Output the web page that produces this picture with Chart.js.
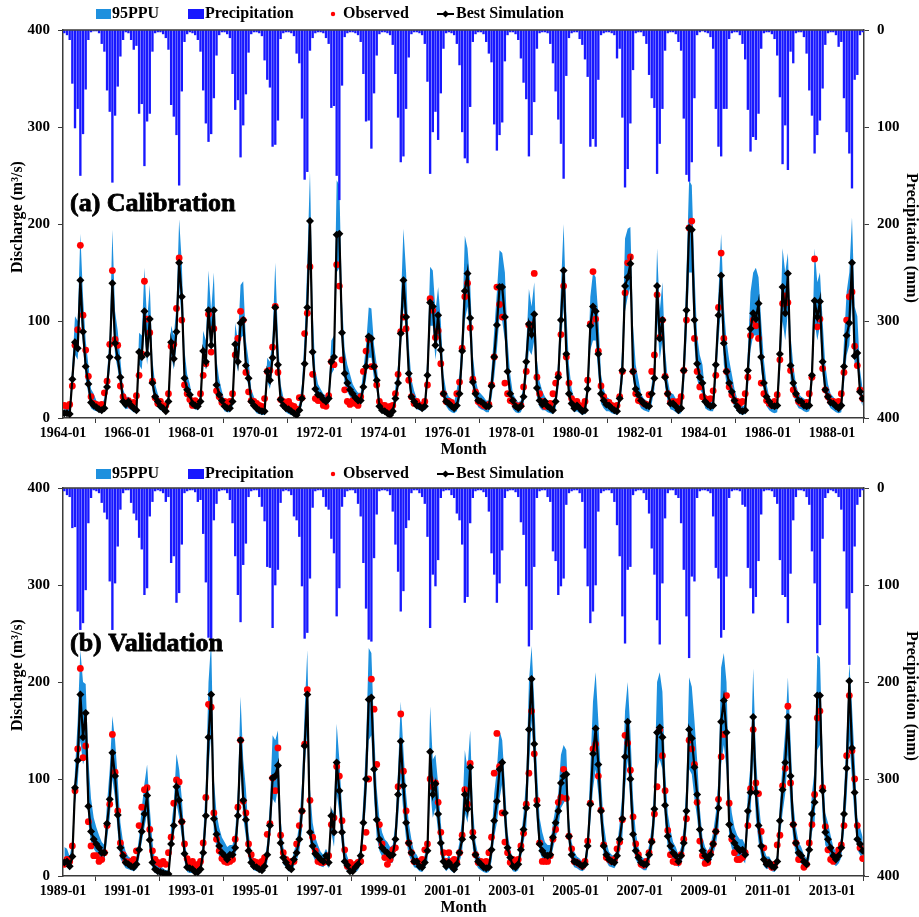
<!DOCTYPE html>
<html lang="en">
<head>
  <meta charset="utf-8">
  <title>Discharge calibration / validation | Chart.js</title>
  <script src="https://cdn.jsdelivr.net/npm/chart.js@4.4.1/dist/chart.umd.min.js"></script>
  <style>
    body { margin: 0; background: #fff; }
    .panel { position: absolute; left: 0; width: 919px; height: 459px; }
  </style>
</head>
<body>
  <div class="panel" style="top:0"><canvas id="cal" width="919" height="459"></canvas></div>
  <div class="panel" style="top:458px"><canvas id="val" width="919" height="459"></canvas></div>

  <script>
    // ---- tick labels (one every 24 months) ----
    const calTicks = ['1964-01','1966-01','1968-01','1970-01','1972-01','1974-01','1976-01',
                      '1978-01','1980-01','1982-01','1984-01','1986-01','1988-01'];
    const valTicks = ['1989-01','1991-01','1993-01','1995-01','1997-01','1999-01','2001-01',
                      '2003-01','2005-01','2007-01','2009-01','2011-01','2013-01'];

    // ---- calibration 1964-01 .. 1988-12 (monthly) ----
    const calPrecip = [
      3,5,10,55,101,81,150,107,61,10,2,1,
      1,3,14,22,62,84,157,88,58,27,10,2,
      3,10,20,16,86,76,140,94,86,22,3,2,
      2,4,8,20,77,89,108,160,63,12,4,2,
      3,5,10,22,62,96,115,107,70,26,5,2,
      2,4,8,45,82,72,131,98,66,23,4,2,
      2,3,6,31,51,59,120,118,93,9,3,2,
      2,3,6,24,34,91,154,146,21,8,3,2,
      2,3,8,14,80,78,150,175,57,7,3,2,
      2,3,5,12,45,94,93,122,65,26,4,2,
      2,3,5,15,45,90,136,130,81,28,4,2,
      2,3,5,14,53,148,105,84,113,65,19,3,
      2,3,5,14,36,105,132,137,79,12,4,2,
      2,4,12,24,33,97,124,108,95,32,5,2,
      2,4,10,29,54,71,130,108,74,19,3,2,
      2,3,14,34,63,92,117,153,47,8,3,2,
      2,9,15,30,48,120,112,120,51,5,3,2,
      2,3,5,29,19,90,162,143,96,41,3,2,
      2,6,14,46,70,80,148,117,81,21,3,2,
      2,4,12,21,91,149,156,136,70,5,2,1,
      2,3,7,19,81,120,130,81,81,9,3,2,
      2,5,14,30,82,125,110,113,86,19,3,2,
      2,4,9,26,69,138,98,144,22,34,3,2,
      2,7,24,62,88,127,108,93,60,15,3,2,
      2,5,17,12,70,105,127,163,51,46,5,2
    ];
    const calObserved = [
      13,12,14,33,75,91,178,106,70,43,22,15,
      14,13,14,26,38,76,152,81,75,33,22,16,
      18,13,16,23,44,66,141,102,88,38,21,15,
      17,12,13,25,74,76,113,165,101,34,25,19,
      13,18,16,25,44,56,107,68,92,28,22,16,
      17,12,17,25,65,82,110,101,47,27,18,17,
      15,13,12,20,48,49,73,115,47,19,17,12,
      17,13,12,9,21,21,87,108,156,45,20,18,
      18,13,12,23,58,55,158,136,60,29,17,14,
      18,15,13,22,48,69,81,53,53,34,17,13,
      13,10,12,13,25,45,89,104,92,39,22,15,
      17,13,13,17,34,123,111,83,90,56,25,17,
      17,16,12,25,37,72,125,139,93,40,27,17,
      15,13,12,14,34,63,135,117,104,36,25,18,
      17,13,12,13,32,48,96,96,149,42,25,17,
      12,13,15,25,36,45,86,136,63,36,20,15,
      17,13,12,17,39,97,151,102,69,33,22,16,
      16,13,12,13,22,48,129,160,166,48,25,18,
      17,15,14,24,48,65,127,83,101,43,25,16,
      17,15,17,22,49,101,196,203,82,48,32,22,
      20,18,20,28,44,114,170,82,48,32,24,18,
      17,15,17,25,42,85,101,95,82,36,25,18,
      15,13,17,24,60,118,126,119,49,29,24,17,
      15,15,16,25,42,164,94,102,51,29,22,17,
      17,15,17,25,47,101,125,130,74,54,29,20
    ];
    const calSimulated = [
      5,5,4,40,78,72,142,89,53,35,16,13,
      11,9,8,10,32,63,139,77,62,42,17,14,
      17,13,10,8,68,63,110,66,102,36,22,17,
      12,10,7,17,78,61,89,160,125,41,29,24,
      15,13,12,17,69,58,111,75,111,34,24,18,
      12,10,10,17,76,58,98,101,54,41,17,13,
      10,8,7,7,48,39,62,114,55,19,13,10,
      9,7,5,3,8,20,56,114,203,68,30,24,
      23,19,17,20,58,63,189,190,88,46,36,29,
      25,21,18,18,32,53,84,82,53,39,12,8,
      7,5,3,7,20,36,87,142,104,46,22,17,
      13,12,10,12,44,119,115,75,106,70,25,17,
      15,12,10,13,25,69,131,149,103,37,25,18,
      17,15,12,12,33,63,96,135,135,104,48,25,
      18,12,10,12,22,58,97,86,107,31,18,14,
      17,12,10,8,17,42,101,152,66,25,15,10,
      13,10,7,8,30,95,115,110,66,25,18,14,
      13,10,8,7,20,49,136,145,159,48,30,24,
      18,15,13,12,25,41,136,82,101,42,25,15,
      15,12,8,10,49,111,196,194,101,56,42,36,
      17,14,12,13,55,106,147,77,48,36,27,18,
      12,8,7,8,49,92,108,102,118,63,36,22,
      17,13,12,13,66,135,108,149,54,36,25,18,
      17,13,12,13,44,121,104,120,58,29,22,16,
      15,12,10,13,53,85,98,160,64,67,27,20
    ];
    const calPpuLow = [
      2,2,2,30,65,60,110,75,40,25,10,8,
      7,6,5,8,25,50,110,65,50,32,12,9,
      10,8,6,5,55,50,90,55,85,28,15,11,
      8,7,4,12,65,50,75,135,100,30,20,16,
      10,9,8,12,58,50,95,65,95,28,18,13,
      7,6,6,12,62,48,82,85,45,32,12,9,
      5,4,3,3,38,30,50,95,45,14,9,6,
      4,3,2,1,4,14,45,95,175,55,24,18,
      15,13,11,14,45,50,150,155,70,35,27,22,
      17,14,12,12,25,40,62,62,40,28,8,5,
      4,3,2,4,14,28,70,115,85,35,16,12,
      9,8,7,8,32,95,95,60,85,55,18,12,
      8,6,5,7,17,50,100,115,80,28,17,11,
      9,8,6,6,20,42,70,105,100,80,35,18,
      9,6,5,6,14,40,70,65,80,22,11,8,
      8,6,5,4,10,30,75,115,50,18,10,6,
      7,5,3,4,18,70,80,80,45,15,10,7,
      7,5,4,3,12,35,110,125,135,40,22,16,
      10,8,7,6,15,30,100,60,80,32,16,9,
      8,6,4,5,30,80,150,150,75,40,30,25,
      10,8,7,7,38,80,115,55,35,25,18,11,
      7,4,3,4,30,70,85,85,85,50,25,12,
      8,6,5,6,45,100,80,110,40,25,15,10,
      9,7,6,7,30,100,80,95,45,22,15,10,
      8,6,5,6,35,65,75,120,55,55,20,12
    ];
    const calPpuHigh = [
      12,12,10,55,105,100,190,125,80,55,30,25,
      18,15,14,20,45,85,194,110,90,60,30,22,
      22,18,15,12,88,85,155,100,137,60,35,25,
      18,15,12,25,95,85,115,205,160,70,45,35,
      20,18,16,25,90,80,152,110,150,60,40,28,
      18,15,15,25,98,80,137,141,80,60,30,22,
      15,13,12,12,62,58,85,160,85,35,22,15,
      15,13,10,8,15,35,85,160,255,110,50,35,
      30,25,23,28,80,85,245,240,120,70,55,45,
      35,30,26,26,50,75,114,113,75,55,22,14,
      12,10,8,12,32,55,115,195,150,75,40,28,
      20,18,16,18,65,156,152,110,135,100,45,28,
      22,20,16,30,45,90,188,175,140,65,40,28,
      25,22,18,18,50,90,130,173,170,150,80,45,
      25,20,16,18,35,75,133,115,140,60,38,28,
      22,18,15,12,25,60,135,200,110,55,30,20,
      20,16,12,14,45,125,150,145,105,45,30,22,
      20,16,13,12,30,75,185,195,197,95,55,40,
      25,20,18,16,35,60,175,110,140,70,40,25,
      25,20,15,18,70,150,245,240,150,85,65,55,
      25,22,18,20,70,130,190,115,80,60,45,30,
      20,15,12,14,70,130,150,155,145,100,60,35,
      22,18,16,18,85,175,150,170,85,55,35,25,
      22,20,18,20,60,175,140,150,100,55,35,25,
      22,18,16,20,80,130,150,207,115,105,50,30
    ];

    // ---- validation 1989-01 .. 2013-12 (monthly) ----
    const valPrecip = [
      3,7,9,41,40,127,146,139,105,36,10,2,
      3,5,15,25,32,96,146,98,60,22,5,2,
      2,15,26,33,51,63,110,103,29,14,3,2,
      3,5,14,9,77,70,118,108,58,5,3,2,
      2,4,14,12,47,97,154,160,33,16,3,2,
      2,5,12,36,70,110,138,79,57,9,3,2,
      2,9,19,34,81,82,144,100,84,15,3,2,
      3,7,29,33,50,101,155,149,93,20,3,2,
      2,9,19,22,52,67,132,103,19,9,3,2,
      2,5,16,29,77,124,156,158,72,27,3,2,
      2,3,7,24,58,86,127,106,41,33,5,2,
      2,5,9,16,50,144,89,101,74,10,3,2,
      2,7,10,26,33,58,118,112,36,10,3,2,
      2,4,9,24,67,89,118,98,64,10,3,2,
      2,4,9,35,48,101,163,146,81,10,3,2,
      2,9,14,65,75,110,101,93,17,5,3,2,
      2,5,14,62,101,139,127,100,24,5,3,2,
      2,5,14,38,70,132,160,84,81,7,3,2,
      2,5,12,26,62,89,136,161,98,31,5,2,
      2,7,10,36,84,132,175,91,96,10,3,2,
      2,3,5,29,82,93,154,146,91,10,3,2,
      2,3,17,19,82,103,129,112,75,27,3,2,
      2,3,9,16,74,110,112,139,88,33,9,2,
      2,3,9,17,65,98,170,141,52,10,5,2,
      3,5,9,22,65,124,182,108,60,17,9,2
    ];
    const valObserved = [
      12,17,15,31,88,131,214,122,134,56,31,21,
      21,15,17,24,52,74,146,107,67,34,22,15,
      14,15,17,26,52,71,89,91,48,26,17,14,
      12,15,12,24,40,75,99,97,56,33,18,12,
      15,10,12,15,34,81,177,174,65,38,26,18,
      15,14,15,17,38,71,140,77,65,33,22,15,
      14,10,15,19,43,54,101,88,132,42,24,17,
      14,15,15,33,52,67,136,192,78,40,26,15,
      14,14,15,21,53,60,113,103,57,27,10,14,
      9,12,14,15,29,45,100,203,172,115,53,33,
      19,12,17,27,29,92,167,108,67,34,24,15,
      15,15,17,27,33,100,92,96,76,45,24,15,
      24,15,17,14,24,42,89,74,116,45,22,14,
      15,14,15,24,40,106,147,113,65,35,24,14,
      17,15,17,31,44,74,106,170,126,78,34,15,
      15,15,21,38,48,76,81,110,80,41,28,15,
      14,12,10,15,36,75,131,136,103,68,32,19,
      17,15,17,28,35,58,145,137,109,61,33,22,
      12,11,15,24,36,64,92,151,124,88,47,22,
      15,14,14,22,38,59,140,131,115,76,36,21,
      13,14,24,33,46,79,123,146,186,75,38,24,
      17,17,19,24,52,90,151,96,85,46,29,14,
      12,9,12,32,42,93,111,175,96,53,34,17,
      17,9,12,34,53,84,163,170,91,51,27,17,
      15,21,27,32,52,124,186,129,100,52,29,18
    ];
    const valSimulated = [
      14,15,10,20,91,119,187,143,168,72,46,38,
      33,29,24,24,54,79,127,103,63,29,21,14,
      12,10,9,12,27,46,64,83,37,14,7,5,
      4,3,2,2,33,52,92,78,56,23,9,8,
      7,4,4,7,24,62,143,187,59,43,31,24,
      21,17,22,22,29,62,140,78,58,26,14,10,
      9,7,6,10,22,52,101,103,114,34,19,14,
      9,7,17,24,38,67,134,187,45,31,23,20,
      17,15,21,14,62,45,117,88,45,15,11,5,
      5,9,12,21,55,100,182,184,110,58,38,29,
      26,24,21,22,38,84,139,93,55,34,24,15,
      15,10,9,14,26,128,84,95,64,34,15,10,
      14,10,7,12,24,38,84,69,112,40,22,15,
      12,9,8,9,27,57,77,110,117,65,29,19,
      10,9,12,27,48,70,151,203,136,73,33,26,
      22,21,22,40,55,67,96,103,105,41,22,15,
      14,12,10,12,31,74,126,152,115,67,31,22,
      17,15,14,21,38,59,123,159,100,43,26,19,
      14,12,12,22,35,69,148,153,143,73,41,31,
      24,21,15,21,34,67,151,142,112,84,48,26,
      21,17,22,33,46,70,159,181,148,53,41,34,
      29,26,27,22,67,86,164,86,52,31,17,12,
      14,10,9,15,57,89,117,164,103,53,34,24,
      21,15,12,27,64,76,186,186,88,45,38,29,
      21,17,21,29,64,111,201,132,86,38,33,26
    ];
    const valPpuLow = [
      10,10,6,14,75,95,140,115,125,55,35,28,
      24,20,17,15,38,60,100,80,45,18,12,8,
      7,6,5,7,18,35,50,65,25,8,3,2,
      1,1,0,0,25,40,75,60,40,15,4,3,
      3,1,1,3,15,45,110,150,45,30,20,15,
      14,11,14,14,20,45,110,60,40,18,9,6,
      5,4,3,5,14,38,80,75,90,25,12,9,
      5,4,10,16,25,48,110,150,35,22,15,12,
      10,9,13,8,45,30,85,65,30,8,5,2,
      2,4,6,13,40,75,140,145,80,40,26,20,
      17,15,13,14,25,60,100,65,38,22,15,9,
      8,5,4,8,16,90,60,70,45,22,9,5,
      8,5,3,6,14,25,65,55,85,28,13,8,
      6,4,3,4,15,40,55,80,95,45,18,11,
      5,4,6,18,35,50,110,160,110,55,25,18,
      14,13,14,28,40,50,70,75,80,30,14,9,
      8,6,5,7,20,55,90,110,85,50,22,15,
      10,9,8,13,25,40,90,120,75,30,17,12,
      8,6,6,14,24,50,110,120,110,55,30,22,
      15,13,9,13,22,48,110,105,80,60,32,16,
      13,10,14,22,32,50,115,135,110,40,28,22,
      18,16,17,13,50,65,120,60,35,20,10,7,
      8,5,4,8,40,65,85,125,70,38,22,15,
      13,9,7,17,45,55,130,135,60,32,26,19,
      13,10,13,19,45,80,140,100,60,27,22,17
    ];
    const valPpuHigh = [
      30,28,20,35,110,160,233,200,198,120,80,60,
      50,42,35,32,75,110,165,140,100,55,35,25,
      20,18,16,20,40,70,95,115,70,35,15,10,
      10,8,6,6,50,75,126,110,80,40,18,14,
      14,10,10,14,40,95,200,243,100,65,50,40,
      35,30,32,32,45,90,185,120,90,45,25,18,
      15,12,10,16,35,75,145,140,150,60,30,22,
      15,13,25,35,55,95,170,233,90,55,40,32,
      25,22,28,22,70,65,157,120,70,30,20,12,
      12,15,18,30,80,135,235,230,150,90,60,45,
      38,35,30,32,55,110,180,130,85,55,38,25,
      22,16,14,22,40,175,120,125,95,55,25,16,
      22,16,12,20,35,60,130,110,150,70,35,22,
      18,15,13,15,40,85,110,150,140,95,45,28,
      16,14,18,38,65,100,200,237,180,110,60,45,
      35,32,32,55,70,85,125,135,130,60,35,25,
      20,18,15,18,45,110,180,210,160,100,55,35,
      25,22,20,30,55,85,170,200,150,80,45,30,
      20,18,18,32,50,95,200,210,190,110,65,48,
      35,30,22,30,50,95,205,195,160,120,70,40,
      30,25,32,45,65,100,215,230,200,90,65,50,
      42,38,38,32,85,115,214,125,80,50,28,20,
      20,15,14,22,75,115,150,205,140,75,50,35,
      30,22,18,38,85,110,228,225,125,65,55,42,
      30,25,30,40,85,145,220,175,120,60,50,40
    ];

    const PPU = 'rgb(30,144,222)';
    const RAIN = 'rgb(24,24,255)';
    const AXIS = '#3a3a3a';
    const serif = '"Liberation Serif", "Times New Roman", serif';

    // each month sits in the middle of its slot, ticks on the year boundary
    function monthPoints(values) {
      return values.map((v, i) => ({x: i + 0.5, y: v}));
    }

    function diamond(ctx, x, y, r) {
      ctx.beginPath();
      ctx.moveTo(x, y - r); ctx.lineTo(x + r, y); ctx.lineTo(x, y + r); ctx.lineTo(x - r, y);
      ctx.closePath();
      ctx.fill();
    }

    // legend, panel label, top frame line and the two rotated axis titles
    const decor = {
      id: 'decor',
      afterDraw(chart, args, o) {
        const {ctx, chartArea: a} = chart;
        ctx.save();

        ctx.strokeStyle = AXIS;
        ctx.lineWidth = 1.5;
        ctx.beginPath();
        ctx.moveTo(a.left, a.top);
        ctx.lineTo(a.right, a.top);
        ctx.stroke();

        const y = o.legendY;
        ctx.fillStyle = PPU;
        ctx.fillRect(96, y - 5, 15, 10);
        ctx.fillStyle = RAIN;
        ctx.fillRect(188, y - 5, 16, 10);
        ctx.fillStyle = '#f00';
        ctx.beginPath();
        ctx.arc(333, y, 2.2, 0, Math.PI * 2);
        ctx.fill();
        ctx.strokeStyle = '#000';
        ctx.lineWidth = 2;
        ctx.beginPath();
        ctx.moveTo(437, y);
        ctx.lineTo(454, y);
        ctx.stroke();
        ctx.fillStyle = '#000';
        diamond(ctx, 445.5, y, 3.5);

        ctx.font = 'bold 16px ' + serif;
        ctx.textBaseline = 'middle';
        ctx.fillText('95PPU', 112, y);
        ctx.fillText('Precipitation', 205, y);
        ctx.fillText('Observed', 343, y);
        ctx.fillText('Best Simulation', 456, y);

        ctx.font = 'bold 26px ' + serif;
        ctx.textBaseline = 'alphabetic';
        ctx.lineWidth = 0.8;
        ctx.strokeStyle = '#000';
        ctx.fillText(o.label, 70, o.labelY);
        ctx.strokeText(o.label, 70, o.labelY);

        ctx.font = 'bold 16px ' + serif;
        ctx.textAlign = 'center';
        ctx.textBaseline = 'middle';
        ctx.save();
        ctx.translate(18, 217);
        ctx.rotate(-Math.PI / 2);
        ctx.fillText('Discharge (m³/s)', 0, 0);
        ctx.restore();
        ctx.save();
        ctx.translate(911, 238);
        ctx.rotate(Math.PI / 2);
        ctx.fillText('Precipitation (mm)', 0, 0);
        ctx.restore();

        ctx.restore();
      }
    };

    function axisLook() {
      return {
        grid: {drawOnChartArea: false, drawTicks: true, tickLength: 5, color: AXIS},
        border: {display: true, color: AXIS, width: 1.5}
      };
    }

    function makeChart(id, tickLabels, precip, observed, simulated, low, high, label, labelY, legendY) {
      const tickFont = {family: serif, size: 15, weight: 'bold'};
      return new Chart(id, {
        type: 'line',
        data: {
          datasets: [
            {
              label: '95PPU low',
              data: monthPoints(low),
              borderWidth: 0,
              borderColor: 'rgba(0,0,0,0)',
              pointRadius: 0,
              fill: false,
              order: 4
            },
            {
              label: '95PPU',
              data: monthPoints(high),
              borderWidth: 0,
              borderColor: 'rgba(0,0,0,0)',
              backgroundColor: PPU,
              pointRadius: 0,
              fill: '-1',
              order: 3
            },
            {
              type: 'bar',
              label: 'Precipitation',
              data: monthPoints(precip),
              yAxisID: 'yP',
              backgroundColor: RAIN,
              borderWidth: 0,
              barThickness: 1.7,
              order: 2
            },
            {
              label: 'Observed',
              data: monthPoints(observed),
              showLine: false,
              pointRadius: 3.4,
              pointBorderWidth: 0,
              pointBackgroundColor: '#ff0000',
              order: 1
            },
            {
              label: 'Best Simulation',
              data: monthPoints(simulated),
              borderColor: '#000',
              borderWidth: 2.2,
              pointStyle: 'rectRot',
              pointRadius: 4,
              pointBorderWidth: 0,
              pointBackgroundColor: '#000',
              order: 0
            }
          ]
        },
        options: {
          responsive: false,
          animation: false,
          events: [],
          layout: {padding: {top: 30, left: 0, right: 0, bottom: 0}},
          plugins: {
            legend: {display: false},
            tooltip: {enabled: false},
            decor: {label: label, labelY: labelY, legendY: legendY}
          },
          scales: {
            x: Object.assign(axisLook(), {
              type: 'linear',
              min: 0,
              max: 300,
              offset: false,
              ticks: {
                stepSize: 24,
                includeBounds: false,
                autoSkip: false,
                maxRotation: 0,
                padding: 2,
                color: '#000',
                font: {family: serif, size: 14, weight: 'bold'},
                callback: v => tickLabels[v / 24] || ''
              },
              title: {
                display: true,
                text: 'Month',
                color: '#000',
                font: {family: serif, size: 16, weight: 'bold'},
                padding: {top: 0, bottom: 0}
              },
              afterFit: s => { s.height = 41; }
            }),
            y: Object.assign(axisLook(), {
              position: 'left',
              min: 0,
              max: 400,
              ticks: {stepSize: 100, padding: 8, color: '#000', font: tickFont},
              afterFit: s => { s.width = 63; }
            }),
            yP: Object.assign(axisLook(), {
              position: 'right',
              min: 0,
              max: 400,
              reverse: true,
              ticks: {stepSize: 100, padding: 8, color: '#000', font: tickFont},
              afterFit: s => { s.width = 55; }
            })
          }
        },
        plugins: [decor]
      });
    }

    makeChart('cal', calTicks, calPrecip, calObserved, calSimulated, calPpuLow, calPpuHigh,
              '(a) Calibration', 211, 14);
    makeChart('val', valTicks, valPrecip, valObserved, valSimulated, valPpuLow, valPpuHigh,
              '(b) Validation', 193, 16);
  </script>
</body>
</html>
